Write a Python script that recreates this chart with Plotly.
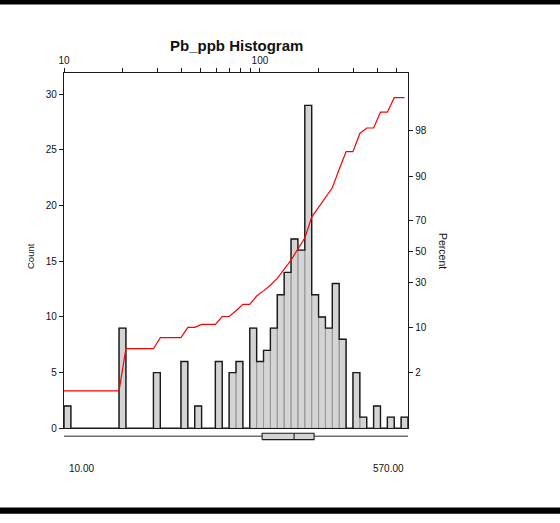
import numpy as np
import plotly.graph_objects as go
from statistics import NormalDist

# ---------------- data ----------------
BIN_MIN = 10.0
BIN_MAX = 570.0
COUNTS = [2, 0, 0, 0, 0, 0, 0, 0, 9, 0,
          0, 0, 0, 5, 0, 0, 0, 6, 0, 2,
          0, 0, 6, 0, 5, 6, 0, 9, 6, 7,
          9, 12, 14, 17, 16, 29, 12, 10, 9, 13,
          8, 0, 5, 1, 0, 2, 0, 1, 0, 1]
BOX_MIN = 10.0
BOX_Q1 = 102.6
BOX_MEDIAN = 149.4
BOX_Q3 = 189.0
BOX_MAX = 570.0
COUNT_TICKS = [0, 5, 10, 15, 20, 25, 30]
PERCENT_TICKS = [2, 10, 30, 50, 70, 90, 98]
TOP_TICKS = [10, 20, 30, 40, 50, 60, 70, 80, 90, 100, 200, 300, 400, 500]
TOP_LABELS = ["10", "", "", "", "", "", "", "", "", "100", "", "", "", ""]

FONT = "Liberation Sans, Arial, sans-serif"
nd = NormalDist()

edges = np.geomspace(BIN_MIN, BIN_MAX, len(COUNTS) + 1)
N = sum(COUNTS)

fig = go.Figure()

# bars (filled, grey dividers)
bx, by = [], []
for k, c in enumerate(COUNTS):
    if c > 0:
        bx += [edges[k], edges[k], edges[k + 1], edges[k + 1], edges[k], None]
        by += [0, c, c, 0, 0, None]
fig.add_trace(go.Scatter(x=bx, y=by, mode="lines", fill="toself",
                         fillcolor="#d4d4d4", line=dict(color="#9a9a9a", width=1),
                         hoverinfo="skip", showlegend=False))

# outer outline of histogram
ox = [edges[0]] + list(edges[:-1]) + [edges[-1], edges[-1]]
oy = [0] + COUNTS + [COUNTS[-1], 0]
fig.add_trace(go.Scatter(x=ox, y=oy, mode="lines", line=dict(color="#1a1a1a", width=1.4, shape="hv"),
                         hoverinfo="skip", showlegend=False))

# cumulative percent line (probability scale)
px_, pz_ = [], []
cum = 0
for k, c in enumerate(COUNTS):
    if c == 0:
        continue
    prev = cum
    cum += c
    if cum >= N:
        px_.append(np.sqrt(edges[k] * edges[k + 1]))
        pz_.append(nd.inv_cdf(prev / N))
        break
    if prev == 0:
        px_.append(edges[k]); pz_.append(nd.inv_cdf(cum / N))
    else:
        px_.append(edges[k]); pz_.append(nd.inv_cdf(prev / N))
        px_.append(edges[k + 1]); pz_.append(nd.inv_cdf(cum / N))
fig.add_trace(go.Scatter(x=px_, y=pz_, mode="lines", yaxis="y2",
                         line=dict(color="#ff0000", width=1.2),
                         hoverinfo="skip", showlegend=False))

# box plot below
fig.add_trace(go.Scatter(x=[BOX_MIN, BOX_MAX], y=[0.54, 0.54], mode="lines", yaxis="y3",
                         line=dict(color="#6e6e6e", width=1.5), hoverinfo="skip", showlegend=False))
fig.add_trace(go.Scatter(x=[BOX_Q1, BOX_Q3, BOX_Q3, BOX_Q1, BOX_Q1],
                         y=[0.33, 0.33, 0.72, 0.72, 0.33], mode="lines", yaxis="y3",
                         fill="toself", fillcolor="#d4d4d4",
                         line=dict(color="#1a1a1a", width=1.1), hoverinfo="skip", showlegend=False))
fig.add_trace(go.Scatter(x=[BOX_MEDIAN, BOX_MEDIAN], y=[0.33, 0.72], mode="lines", yaxis="y3",
                         line=dict(color="#1a1a1a", width=1.1), hoverinfo="skip", showlegend=False))

L, R, T, B = 64, 152, 73, 78
H = 523 - T - B
ydom0 = (445 - 428.3) / H

def py(p):
    return (445 - p) / H

def pxp(p):
    return (p - 64) / 344

fig.update_layout(
    width=560, height=523,
    margin=dict(l=L, r=R, t=T, b=B, pad=0),
    paper_bgcolor="white", plot_bgcolor="white",
    font=dict(family=FONT, size=10, color="#111"),
    showlegend=False,
    xaxis=dict(type="log", range=[np.log10(BIN_MIN), np.log10(BIN_MAX)],
               side="top", anchor="y", showline=True, mirror=True,
               linecolor="#1a1a1a", linewidth=1.3,
               ticks="outside", ticklen=4, tickwidth=1, tickcolor="#1a1a1a",
               tickvals=TOP_TICKS, ticktext=TOP_LABELS, showgrid=False, zeroline=False,
               tickfont=dict(size=10)),
    yaxis=dict(domain=[ydom0, 1], range=[0, 31.91], showline=True, linecolor="#1a1a1a",
               linewidth=1.3, ticks="outside", ticklen=4, tickwidth=1, tickcolor="#1a1a1a",
               tickvals=COUNT_TICKS, showgrid=False, zeroline=False, tickfont=dict(size=10)),
    yaxis2=dict(domain=[ydom0, 1], overlaying="y", side="right", anchor="x",
                range=[-3.0, 3.03], showline=True, linecolor="#1a1a1a", linewidth=1.3,
                ticks="outside", ticklen=4, tickwidth=1, tickcolor="#1a1a1a",
                tickvals=[nd.inv_cdf(p / 100) for p in PERCENT_TICKS],
                ticktext=[str(p) for p in PERCENT_TICKS],
                showgrid=False, zeroline=False, tickfont=dict(size=10)),
    yaxis3=dict(domain=[0, ydom0 - 0.001], range=[0, 1], visible=False, anchor="x"),
)

fig.add_annotation(text="<b>Pb_ppb Histogram</b>", xref="paper", yref="paper",
                   x=0.5, y=py(45), xanchor="center", yanchor="middle",
                   showarrow=False, font=dict(size=15, color="#111"))
fig.add_annotation(text="Count", xref="paper", yref="paper", x=pxp(30), y=py(256),
                   textangle=-90, showarrow=False, font=dict(size=9.5),
                   xanchor="center", yanchor="middle")
fig.add_annotation(text="Percent", xref="paper", yref="paper", x=pxp(443), y=py(251),
                   textangle=90, showarrow=False, font=dict(size=10.5),
                   xanchor="center", yanchor="middle")
fig.add_annotation(text=f"{BOX_MIN:.2f}", xref="paper", yref="paper", x=pxp(67), y=py(468),
                   xanchor="left", yanchor="middle", showarrow=False, font=dict(size=10))
fig.add_annotation(text=f"{BOX_MAX:.2f}", xref="paper", yref="paper", x=pxp(406), y=py(468),
                   xanchor="right", yanchor="middle", showarrow=False, font=dict(size=10))

# page border bands
fig.add_shape(type="rect", xref="paper", yref="paper", x0=pxp(-2), x1=pxp(562),
              y0=py(4.5), y1=py(-2), fillcolor="black", line=dict(width=0), layer="above")
fig.add_shape(type="rect", xref="paper", yref="paper", x0=pxp(-2), x1=pxp(562),
              y0=py(513.8), y1=py(507.4), fillcolor="black", line=dict(width=0), layer="above")

fig.write_html("out.html", config={"displayModeBar": False},
               post_script="document.body.style.margin='0px';document.body.style.overflow='hidden';")
